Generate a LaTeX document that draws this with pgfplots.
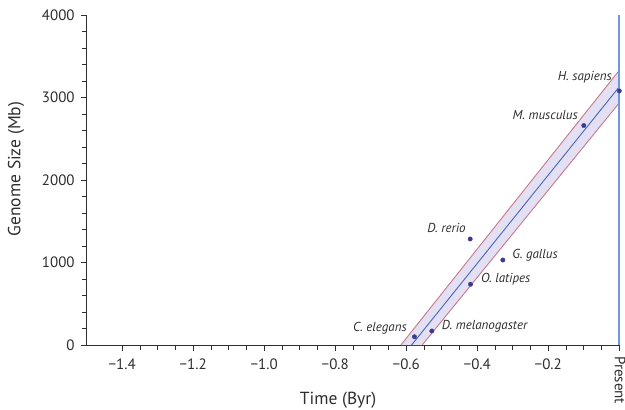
\documentclass[border=0pt]{standalone}
\usepackage{pgfplots}
\pgfplotsset{compat=1.18}
\usepackage{fontspec}
\setmainfont{PT Sans}
\definecolor{axgray}{HTML}{2E2E2E}
\definecolor{dotblue}{HTML}{3B3B8F}
\definecolor{fitblue}{HTML}{4A66B8}
\definecolor{bandedge}{HTML}{C87888}
\definecolor{bandfill}{HTML}{E2E0F2}
\definecolor{presentblue}{HTML}{6F98D8}
\begin{document}
\begin{tikzpicture}
\begin{axis}[
  scale only axis,
  width=532.6pt, height=330pt,
  xmin=-1.5, xmax=0, ymin=0, ymax=4000,
  clip=false,
  axis x line=bottom, axis y line=left,
  axis line style={-, draw=axgray, line width=1pt},
  tick align=outside,
  major tick length=5.5pt, minor tick length=4.5pt,
  tick style={draw=axgray, line width=0.9pt},
  xtick={-1.4,-1.2,-1.0,-0.8,-0.6,-0.4,-0.2,0},
  xticklabels={−1.4,−1.2,−1.0,−0.8,−0.6,−0.4,−0.2,{}},
  minor x tick num=3,
  ytick={0,1000,2000,3000,4000},
  minor y tick num=4,
  /pgf/number format/assume math mode=true,
  /pgf/number format/1000 sep={},
  ticklabel style={font=\fontsize{15}{17}\selectfont, text=axgray},
  xticklabel style={yshift=-5pt},
  yticklabel style={xshift=-3pt},
  xlabel={Time (Byr)},
  ylabel={Genome Size (Mb)},
  label style={font=\fontsize{17.5}{20}\selectfont, text=axgray},
  xlabel style={at={(axis description cs:0.472,0)}, anchor=north, yshift=-44pt},
  ylabel style={at={(axis description cs:0,0.533)}, anchor=south, yshift=59pt},
]
\coordinate (sw) at (rel axis cs:0,0);
% confidence band
\addplot[fill=bandfill, draw=none] coordinates {(-0.615,0) (0,3330) (0,2935) (-0.555,0)} -- cycle;
\addplot[bandedge, line width=0.9pt] coordinates {(-0.615,0) (0,3330)};
\addplot[bandedge, line width=0.9pt] coordinates {(-0.555,0) (0,2935)};
\addplot[fitblue, line width=0.9pt] coordinates {(-0.585,0) (0,3130)};
% present line
\addplot[presentblue, line width=2pt] coordinates {(0,0) (0,4000)};
% species
\addplot[only marks, mark=*, mark size=2.2pt, dotblue] coordinates {
  (0,3080) (-0.1,2660) (-0.42,1285) (-0.328,1030) (-0.419,736) (-0.528,170) (-0.577,100)};
\begin{scope}[every node/.style={font=\fontsize{13}{15}\selectfont\itshape, text=axgray, inner sep=0pt}]
\node[anchor=east] at (axis cs:-0.0206,3248) {H. sapiens};
\node[anchor=east] at (axis cs:-0.1163,2788) {M. musculus};
\node[anchor=east] at (axis cs:-0.432,1418) {D. rerio};
\node[anchor=west] at (axis cs:-0.302,1091) {G. gallus};
\node[anchor=west] at (axis cs:-0.390,800) {O. latipes};
\node[anchor=west] at (axis cs:-0.500,230) {D. melanogaster};
\node[anchor=east] at (axis cs:-0.598,206) {C. elegans};
\end{scope}
\node[yshift=-11pt, rotate=-90, anchor=west, font=\fontsize{15}{17}\selectfont, text=axgray, inner sep=0pt] at (axis cs:0.002,0) {Present};
\end{axis}
\pgfresetboundingbox
\useasboundingbox (sw) ++(-86.7pt,-65pt) rectangle ++(625pt,410pt);
\end{tikzpicture}
\end{document}
